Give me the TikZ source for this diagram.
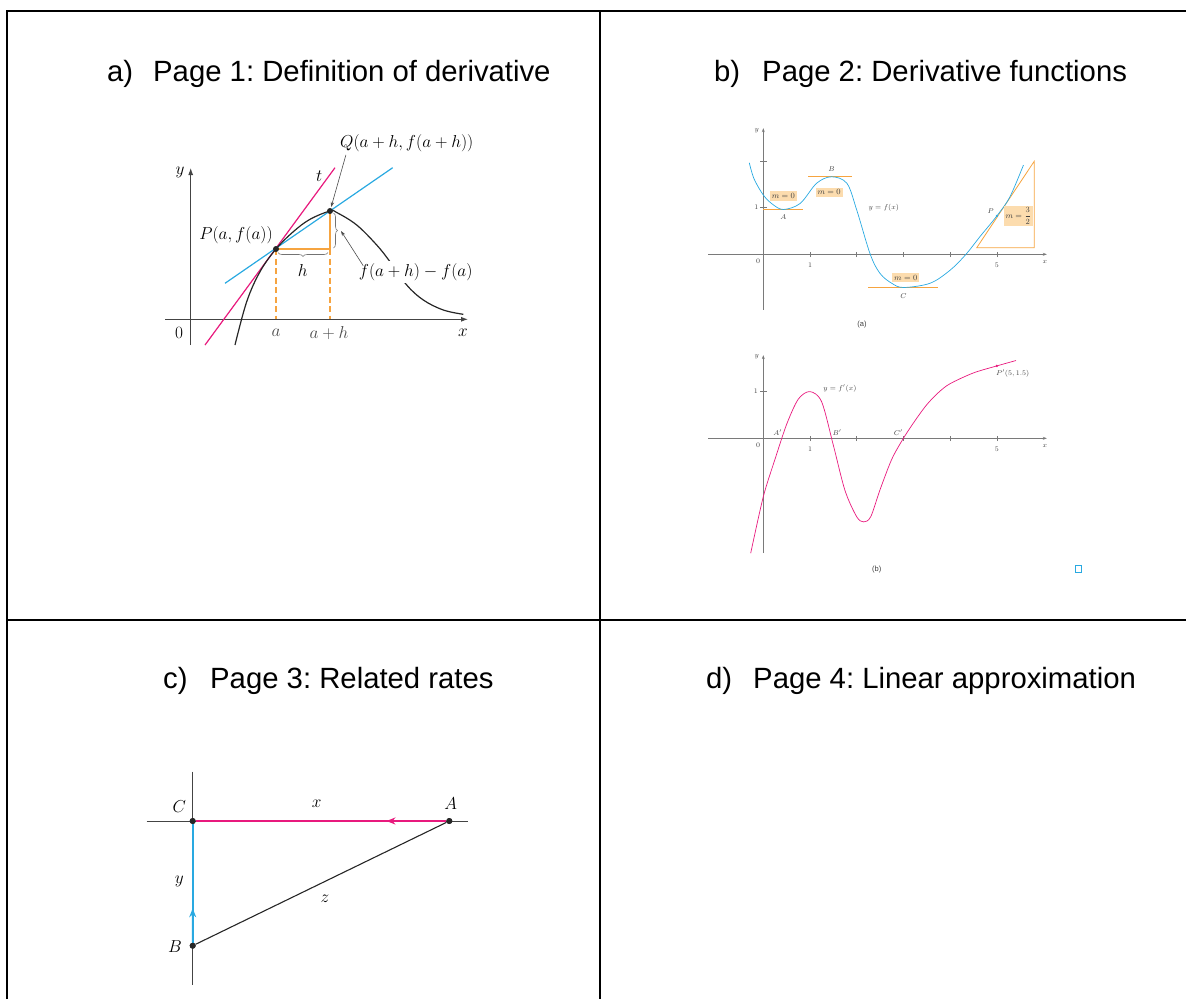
\documentclass[tikz,border=0pt]{standalone}
\usepackage{fontspec}
\setmainfont{Liberation Sans}
\usepackage{amsmath}
\usetikzlibrary{arrows.meta,calc,decorations.pathreplacing}
\frenchspacing
\definecolor{pmag}{HTML}{E8197D}
\definecolor{pblue}{HTML}{29A9E1}
\definecolor{porange}{HTML}{F6A440}
\definecolor{pbox}{HTML}{FCDCAE}
\definecolor{axgray}{HTML}{444444}
\definecolor{lgray}{HTML}{7A7A7A}
\tikzset{
  titletext/.style={font=\fontsize{29.3}{35}\selectfont, inner sep=0pt, anchor=base west},
  alab/.style={font=\fontsize{17}{20}\selectfont, inner sep=1pt},
  blab/.style={font=\fontsize{7.5}{9}\selectfont, text=black!75, inner sep=0.5pt},
  mbox/.style={font=\fontsize{8}{9.5}\selectfont, text=black!75, fill=pbox, inner sep=2pt},
  clab/.style={font=\fontsize{19}{23}\selectfont, inner sep=1pt},
  bigdot/.style={circle, fill=black!85, inner sep=0pt, minimum size=6pt},
  axa/.style={axgray, line width=0.9pt},
  axb/.style={lgray, line width=0.6pt},
  axc/.style={axgray, line width=0.9pt},
  odash/.style={porange, line width=1.5pt, dash pattern=on 6pt off 3.5pt},
}
\begin{document}
\begin{tikzpicture}[x=1pt,y=-1pt]
\useasboundingbox (0,0) rectangle (1186,999);
% table
\draw[line width=2pt, line join=miter] (7,999) -- (7,11) -- (1186,11);
\draw[line width=2pt] (600,11) -- (600,999);
\draw[line width=2pt] (7,620) -- (1186,620);
% titles
\node[titletext] (ta1) at (107,81) {a)};
\node[titletext] (ta2) at (153,81) {Page 1: Definition of derivative};
\node[titletext] (tb1) at (714,81) {b)};
\node[titletext] (tb2) at (762,81) {Page 2: Derivative functions};
\node[titletext] (tc1) at (163,688) {c)};
\node[titletext] (tc2) at (210,688) {Page 3: Related rates};
\node[titletext] (td1) at (706,688) {d)};
\node[titletext] (td2) at (753,688) {Page 4: Linear approximation};

% ================= panel a =================
\draw[axa, -{Latex[length=7pt,width=5pt]}] (165,319.3) -- (468,319.3);
\draw[axa, -{Latex[length=7pt,width=5pt]}] (190.7,345) -- (190.7,168);
\node[alab] (ay) at (180,172) {$y$};
\node[alab] (a0) at (179,333) {$0$};
\node[alab] (ax) at (463,333) {$x$};
\node[alab, text=black!70] (aa) at (276,333) {$a$};
\node[alab, text=black!70] (aah) at (329,333) {$a+h$};
% tangent and secant
\draw[pmag, line width=1.2pt] (205,345) -- (335,167.7);
\draw[pblue, line width=1.2pt] (225,283.3) -- (392.7,167.7);
% orange
\draw[odash] (276,249) -- (276,319.3);
\draw[odash] (330,249) -- (330,319.3);
\draw[porange, line width=1.4pt] (276,249) -- (330,249) -- (330,211);
% curve
\draw[black!85, line width=1.2pt] plot[smooth, tension=0.6] coordinates {(235,345) (246.7,301.7) (260,271.7) (276,249) (293.3,231.7) (310,219.3) (330,211) (336.7,212.5) (356.7,225) (376.7,245) (390,261.7) (406.7,285) (423.3,300) (443.3,310) (463.3,314.3)};
% braces
\draw[black!55, line width=0.6pt, decorate, decoration={brace, amplitude=4pt}] (328,252.5) -- (278,252.5);
\draw[black!55, line width=0.6pt, decorate, decoration={brace, amplitude=4pt}] (333.5,213) -- (333.5,248);
\coordinate (btip) at (341,231);
% labels
\node[alab] (ht) at (319.3,175.7) {$t$};
\node[alab] (hl) at (302.7,270) {$h$};
\node[alab] (Pl) at (236,235) {$P(a, f(a))$};
\node[alab] (Ql) at (406.7,143) {$Q(a+h, f(a+h))$};
\node[alab, fill=white, inner sep=2.5pt] (dl) at (415.7,272) {$f(a+h)-f(a)$};
% dots
\node[bigdot] (P) at (276,249) {};
\node[bigdot] (Q) at (330,211) {};
% pointer arrows
\draw[black!70, line width=0.6pt, -{Stealth[length=5pt,width=3.5pt]}, shorten >=1pt] ([xshift=7pt,yshift=-2pt]Ql.south west) -- (Q);
\draw[black!70, line width=0.6pt, -{Stealth[length=5pt,width=3.5pt]}] ([xshift=7pt,yshift=-5pt]dl.north west) -- (btip);

% ================= panel b (a) =================
\begin{scope}[shift={(763.3pt,-254.3pt)}, x=46.7pt, y=46.7pt]
\draw[axb, -{Stealth[length=4pt,width=3pt]}] (-1.18,0) -- (6.07,0);
\draw[axb, -{Stealth[length=4pt,width=3pt]}] (0,-1.19) -- (0,2.70);
\foreach \t in {1,2,3,4,5} \draw[axb] (\t,-0.06) -- (\t,0.06);
\foreach \t in {1,2} \draw[axb] (-0.07,\t) -- (0.07,\t);
\node[blab] (by) at (-0.14,2.65) {$y$};
\node[blab] (b0) at (-0.11,-0.14) {$0$};
\node[blab] (b1) at (1,-0.24) {$1$};
\node[blab] (b5) at (5,-0.24) {$5$};
\node[blab] (bx) at (6.03,-0.16) {$x$};
\node[blab] (b1y) at (-0.15,1) {$1$};
% orange slopes
\draw[porange, line width=0.8pt] (0,0.96) -- (0.86,0.96);
\draw[porange, line width=0.8pt] (0.96,1.66) -- (1.89,1.66);
\draw[porange, line width=0.8pt] (2.25,-0.71) -- (3.75,-0.71);
\draw[porange, line width=0.8pt] (4.57,0.14) -- (5.8,1.99) -- (5.8,0.14) -- cycle;
% f
\draw[pblue, line width=0.7pt] plot[smooth, tension=0.55] coordinates {(-0.3,1.96) (-0.2,1.62) (0,1.27) (0.2,1.07) (0.43,0.96) (0.79,1.09) (1.14,1.52) (1.46,1.66) (1.79,1.52) (2.0,0.95) (2.29,0) (2.5,-0.41) (2.75,-0.62) (3.0,-0.71) (3.57,-0.62) (4.0,-0.34) (4.34,0) (4.64,0.38) (5,0.82) (5.28,1.23) (5.57,1.91)};
\node[circle, fill=pblue, inner sep=0pt, minimum size=2.6pt] (bP) at (5,0.82) {};
\node[mbox] (mA) at (0.43,1.25) {$m=0$};
\node[mbox] (mB) at (1.41,1.33) {$m=0$};
\node[mbox] (mC) at (3.05,-0.50) {$m=0$};
\node[mbox, inner sep=1.5pt] (mP) at (5.46,0.82) {$m=\dfrac{3}{2}$};
\node[blab] (lA) at (0.43,0.79) {$A$};
\node[blab] (lB) at (1.46,1.83) {$B$};
\node[blab] (lC) at (3.0,-0.89) {$C$};
\node[blab] (lPb) at (4.87,0.92) {$P$};
\node[blab] (lf) at (2.58,0.99) {$y=f(x)$};
\end{scope}
\node[blab] (capa) at (862,325) {(a)};

% ================= panel b (b) =================
\begin{scope}[shift={(763.3pt,-438.3pt)}, x=46.7pt, y=46.7pt]
\draw[axb, -{Stealth[length=4pt,width=3pt]}] (-1.18,0) -- (6.07,0);
\draw[axb, -{Stealth[length=4pt,width=3pt]}] (0,-2.46) -- (0,1.78);
\foreach \t in {1,2,3,4,5} \draw[axb] (\t,-0.06) -- (\t,0.06);
\draw[axb] (-0.07,1) -- (0.07,1);
\node[blab] (dy) at (-0.14,1.74) {$y$};
\node[blab] (d0) at (-0.11,-0.14) {$0$};
\node[blab] (d1) at (1,-0.24) {$1$};
\node[blab] (d5) at (5,-0.24) {$5$};
\node[blab] (dx) at (6.03,-0.16) {$x$};
\node[blab] (d1y) at (-0.16,1) {$1$};
\draw[pmag, line width=0.7pt] plot[smooth, tension=0.5] coordinates {(-0.27,-2.46) (0,-1.25) (0.25,-0.45) (0.5,0.3) (0.75,0.84) (1.0,1.0) (1.25,0.78) (1.5,-0.15) (1.75,-1.12) (2.0,-1.68) (2.15,-1.79) (2.3,-1.68) (2.5,-1.1) (2.75,-0.45) (3.0,0.0) (3.25,0.38) (3.5,0.72) (3.75,0.98) (4.0,1.17) (4.5,1.40) (5,1.55) (5.41,1.665)};
\node[circle, fill=pmag, inner sep=0pt, minimum size=2.6pt] (dP) at (5.0,1.55) {};
\node[blab] (lfp) at (1.64,1.07) {$y=f'(x)$};
\node[blab] (lAp) at (0.31,0.12) {$A'$};
\node[blab] (lBp) at (1.58,0.12) {$B'$};
\node[blab] (lCp) at (2.89,0.12) {$C'$};
\node[blab, anchor=west] (lPp) at (4.97,1.39) {$P'(5, 1.5)$};
\end{scope}
\node[blab] (capb) at (876.7,569.3) {(b)};
\node[draw=pblue, line width=0.6pt, minimum size=6.5pt, inner sep=0pt] (sq) at (1078.3,568.7) {};

% ================= panel c =================
\draw[axc] (146.7,821) -- (468.3,821);
\draw[axc] (192.7,771.7) -- (192.7,985);
\node[bigdot] (C) at (192.7,821) {};
\node[bigdot] (A) at (449.3,821) {};
\node[bigdot] (B) at (192.7,945.7) {};
\draw[black!85, line width=1.1pt] (A) -- (B);
\draw[pmag, line width=1.6pt] (A) -- (C);
\draw[pblue, line width=1.6pt] (B) -- (C);
\draw[pmag, line width=1.6pt, -{Stealth[length=9pt,width=7pt]}] (A) -- ($(A)!0.245!(C)$);
\draw[pblue, line width=1.6pt, -{Stealth[length=9pt,width=7pt]}] (B) -- ($(B)!0.30!(C)$);
\node[bigdot] at (C) {};
\node[bigdot] at (A) {};
\node[bigdot] at (B) {};
\node[clab] (lCc) at (179.3,806.7) {$C$};
\node[clab] (lAc) at (450.7,803.3) {$A$};
\node[clab] (lxc) at (316.7,803.3) {$x$};
\node[clab] (lyc) at (179.3,881.7) {$y$};
\node[clab] (lzc) at (325,898.3) {$z$};
\node[clab] (lBc) at (175,946.7) {$B$};
\end{tikzpicture}
\end{document}
